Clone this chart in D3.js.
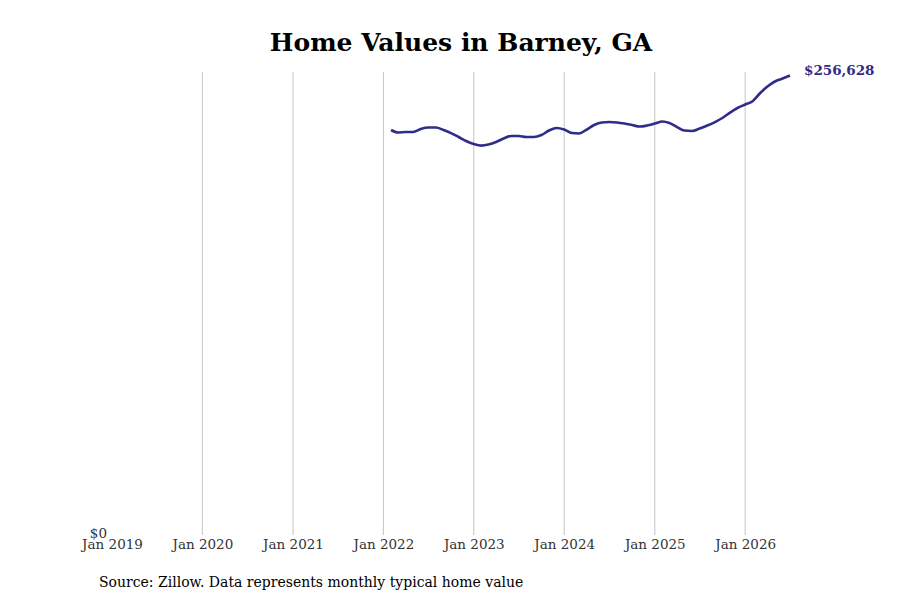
<!DOCTYPE html>
<html>
<head>
<meta charset="utf-8" />
<title>Home Values in Barney, GA</title>
<style>
  body { margin: 0; background: #fff; }
  svg { font-family: "DejaVu Serif", serif; }
  .grid line { stroke: #c4c4c4; stroke-width: 1px; }
  .line { fill: none; stroke: #2f2c8a; stroke-width: 2.6px; }
</style>
</head>
<body>
<svg id="chart" width="900" height="600"></svg>
<script src="https://d3js.org/d3.v7.min.js"></script>
<script>
// monthly typical home value, Feb 2022 .. Jul 2026
var startMonth = "2022-02";
var homeValues = [
  226200, 224800, 225100, 225100, 226750, 227600, 227600, 226200, 224500, 222300, 220050,
  218400, 217500, 218100, 219500, 221450, 222850, 222850, 222300, 222300, 223400, 225900, 227300,
  226450, 224500, 224250, 226450, 229000, 230400, 230650, 230400, 229800, 229000, 228150, 228700,
  229800, 230950, 230100, 227850, 225900, 225650, 227050, 228700, 230650, 232900, 235950, 238500,
  240450, 242400, 246600, 250500, 253300, 254950, 256628
];
var yearTicks = ["2019", "2020", "2021", "2022", "2023", "2024", "2025", "2026"];
var titleText = "Home Values in Barney, GA";
var sourceText = "Source: Zillow. Data represents monthly typical home value";

var parseMonth = d3.timeParse("%Y-%m");
var start = parseMonth(startMonth);
var data = homeValues.map(function(v, i) {
  return { date: d3.timeMonth.offset(start, i), value: v };
});

var svg = d3.select("#chart");
var margin = { top: 72, right: 110, bottom: 65, left: 112 };
var width = 900 - margin.left - margin.right,
    height = 600 - margin.top - margin.bottom;

var x = d3.scaleTime()
  .domain([parseMonth(yearTicks[0] + "-01"), data[data.length - 1].date])
  .range([0, width]);
var y = d3.scaleLinear()
  .domain([0, d3.max(homeValues) * 1.0077])
  .range([height, 0]);

var g = svg.append("g").attr("transform", "translate(" + margin.left + "," + margin.top + ")");

// vertical gridlines at each January (skip the first, which is the left edge)
var tickDates = yearTicks.map(function(t) { return parseMonth(t + "-01"); });
g.append("g").attr("class", "grid")
  .selectAll("line")
  .data(tickDates.slice(1))
  .join("line")
  .attr("x1", function(d) { return x(d); })
  .attr("x2", function(d) { return x(d); })
  .attr("y1", 0)
  .attr("y2", height);

// x axis labels
var xAxis = d3.axisBottom(x)
  .tickValues(tickDates)
  .tickFormat(d3.timeFormat("Jan %Y"))
  .tickSize(0)
  .tickPadding(4);
var xg = g.append("g").attr("transform", "translate(0," + height + ")").call(xAxis);
xg.select(".domain").remove();
xg.selectAll("text").attr("font-family", "DejaVu Serif").attr("font-size", 13.5).attr("fill", "#333");

// y axis, only $0 (sits just above the first x label, as in the original)
var yAxis = d3.axisLeft(y).tickValues([0]).tickFormat(d3.format("$,")).tickSize(0).tickPadding(5);
var yg = g.append("g").call(yAxis);
yg.select(".domain").remove();
yg.selectAll("text").attr("font-family", "DejaVu Serif").attr("font-size", 13.5).attr("fill", "#333")
  .attr("dy", "0.2em");

var line = d3.line()
  .curve(d3.curveMonotoneX)
  .x(function(d) { return x(d.date); })
  .y(function(d) { return y(d.value); });

g.append("path").datum(data).attr("class", "line").attr("d", line);

var last = data[data.length - 1];
g.append("text")
  .attr("x", x(last.date) + 14)
  .attr("y", y(last.value) - 1)
  .attr("font-size", 13.5)
  .attr("font-weight", "bold")
  .attr("fill", "#2f2c8a")
  .text(d3.format("$,")(last.value));

svg.append("text")
  .attr("x", 461)
  .attr("y", 51)
  .attr("text-anchor", "middle")
  .attr("font-size", 25)
  .attr("font-weight", "bold")
  .attr("fill", "#000")
  .text(titleText);

svg.append("text")
  .attr("x", 99)
  .attr("y", 587)
  .attr("font-size", 14)
  .attr("fill", "#000")
  .text(sourceText);
</script>
</body>
</html>
